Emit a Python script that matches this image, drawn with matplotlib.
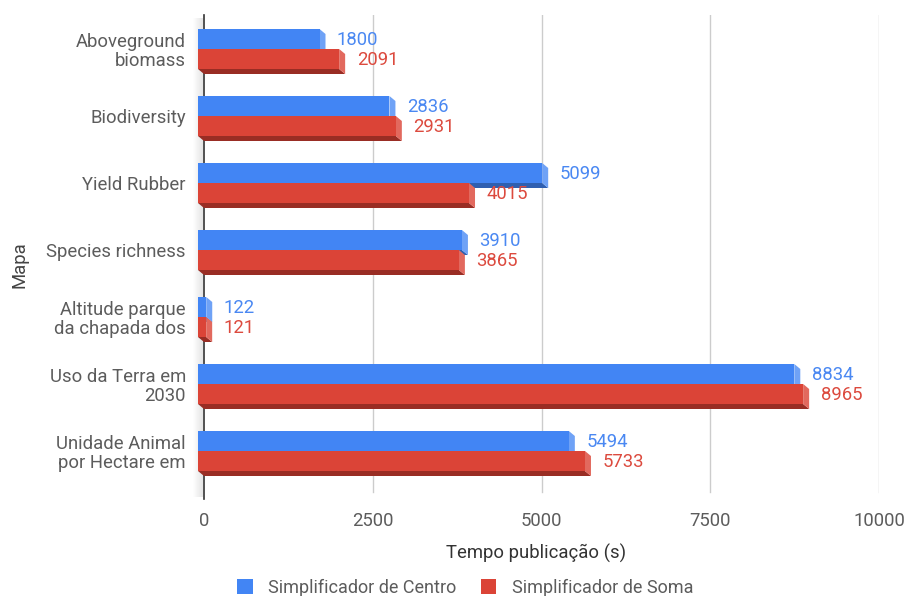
import matplotlib
matplotlib.use("Agg")
import matplotlib.pyplot as plt
from matplotlib.patches import Polygon, Patch
import numpy as np

# ---- data -------------------------------------------------------------
categories = [
    "Aboveground\nbiomass",
    "Biodiversity",
    "Yield Rubber",
    "Species richness",
    "Altitude parque\nda chapada dos",
    "Uso da Terra em\n2030",
    "Unidade Animal\npor Hectare em",
]
centro = [1800, 2836, 5099, 3910, 122, 8834, 5494]
soma = [2091, 2931, 4015, 3865, 121, 8965, 5733]
series_names = ["Simplificador de Centro", "Simplificador de Soma"]
x_ticks = [0, 2500, 5000, 7500, 10000]
x_title = "Tempo publicação (s)"
y_title = "Mapa"

# ---- style ------------------------------------------------------------
plt.rcParams["font.family"] = ["Roboto", "DejaVu Sans"]
FS = 13.3
TXT = "#5c5c5c"
face_cols = [
    # front, side, bottom
    ("#4285F4", "#6fa2f6", "#2f5fb0"),
    ("#DB4437", "#e2695e", "#992d24"),
]
label_cols = ["#4a88f2", "#dc4a3e"]

W, H, DPI = 906, 596, 100
fig = plt.figure(figsize=(W / DPI, H / DPI), dpi=DPI)

# back plane of the plot area, in pixels
left_px, right_px, top_px, bottom_px = 204, 879, 15, 497
row_px = 67          # distance between categories
first_row_px = 54    # centre of the first category on the back plane
bar_px = 20          # thickness of one bar
depth_x_px, depth_y_px = 6, 5

ax = fig.add_axes([left_px / W, 1 - bottom_px / H,
                   (right_px - left_px) / W, (bottom_px - top_px) / H])
xmax = x_ticks[-1]
px_per_x = (right_px - left_px) / xmax
ax.set_xlim(0, xmax)
ax.set_ylim((bottom_px - first_row_px) / row_px, (top_px - first_row_px) / row_px)

dxd = depth_x_px / px_per_x      # depth in data units
dyd = depth_y_px / row_px
h = bar_px / row_px

for s in ax.spines.values():
    s.set_visible(False)

# side wall left of the zero line
grad = np.linspace(0, 1, 50).reshape(1, -1)
wall_cmap = matplotlib.colors.LinearSegmentedColormap.from_list("wall", ["#ffffff", "#e4e4e4"])
ylo, yhi = ax.get_ylim()
ax.imshow(grad, cmap=wall_cmap, extent=[-11 / px_per_x, -1.5 / px_per_x, ylo, yhi + 0.05],
          aspect="auto", zorder=0, clip_on=False)
ax.set_xlim(0, xmax)
ax.set_ylim(ylo, yhi)

# gridlines and baseline
for t in x_ticks[1:]:
    ax.axvline(t, ymin=5 / 482, ymax=1, color="#cccccc", lw=1, zorder=1)
ax.axvline(0, ymin=-2 / 482, ymax=1, color="#333333", lw=1.2, zorder=1, clip_on=False)

# ---- 3D bars ------------------------------------------------------------
z = 2
for i in range(len(categories)):
    for s, vals in enumerate([centro, soma]):
        v = vals[i]
        yc = i + (s - 0.5) * h
        yt, yb = yc - h / 2, yc + h / 2
        front, side, bottom = face_cols[s]
        bottom_face = Polygon([(-dxd, yb - dyd), (v - dxd, yb - dyd), (v, yb), (0, yb)],
                              closed=True, facecolor=bottom, edgecolor="none",
                              zorder=z, clip_on=False)
        side_face = Polygon([(v - dxd, yt - dyd), (v, yt), (v, yb), (v - dxd, yb - dyd)],
                            closed=True, facecolor=side, edgecolor="none",
                            zorder=z, clip_on=False)
        ax.add_patch(bottom_face)
        ax.add_patch(side_face)
        ax.barh([yc - dyd], [v], height=h, left=-dxd, color=front,
                edgecolor="none", zorder=z + 0.5, clip_on=False)
        ax.annotate(f"{v}", xy=(v, yc - dyd), xytext=(11.5 * 0.72, -0.7),
                    textcoords="offset points", ha="left", va="center",
                    color=label_cols[s], fontsize=FS, zorder=10)
        z += 1

# ---- axes text ----------------------------------------------------------
ax.set_yticks(np.arange(len(categories)) - dyd)
ax.set_yticklabels(categories, fontsize=FS, color=TXT, linespacing=1.1)
ax.set_xticks(x_ticks)
ax.set_xticklabels([str(t) for t in x_ticks], fontsize=FS, color=TXT)
ax.tick_params(axis="y", length=0, pad=13)
ax.tick_params(axis="x", length=0, pad=11)

ax.set_xlabel(x_title, fontsize=FS, color="#333333")
ax.xaxis.set_label_coords((536 - left_px) / (right_px - left_px), -(553 - bottom_px) / (bottom_px - top_px))
ax.xaxis.label.set_va("center")
fig.text(20 / W, 1 - 265 / H, y_title, rotation=90, ha="center", va="center",
         fontsize=FS, color="#444444")

handles = [Patch(facecolor=face_cols[k][0], edgecolor="none") for k in range(2)]
fig.legend(handles, series_names, loc="center", bbox_to_anchor=(465 / W, 1 - 588 / H),
           ncol=2, frameon=False, fontsize=13.0, handlelength=0.88, handleheight=0.88,
           handletextpad=0.85, columnspacing=1.35, borderpad=0, labelcolor=TXT)

fig.savefig("out.png", dpi=DPI)
